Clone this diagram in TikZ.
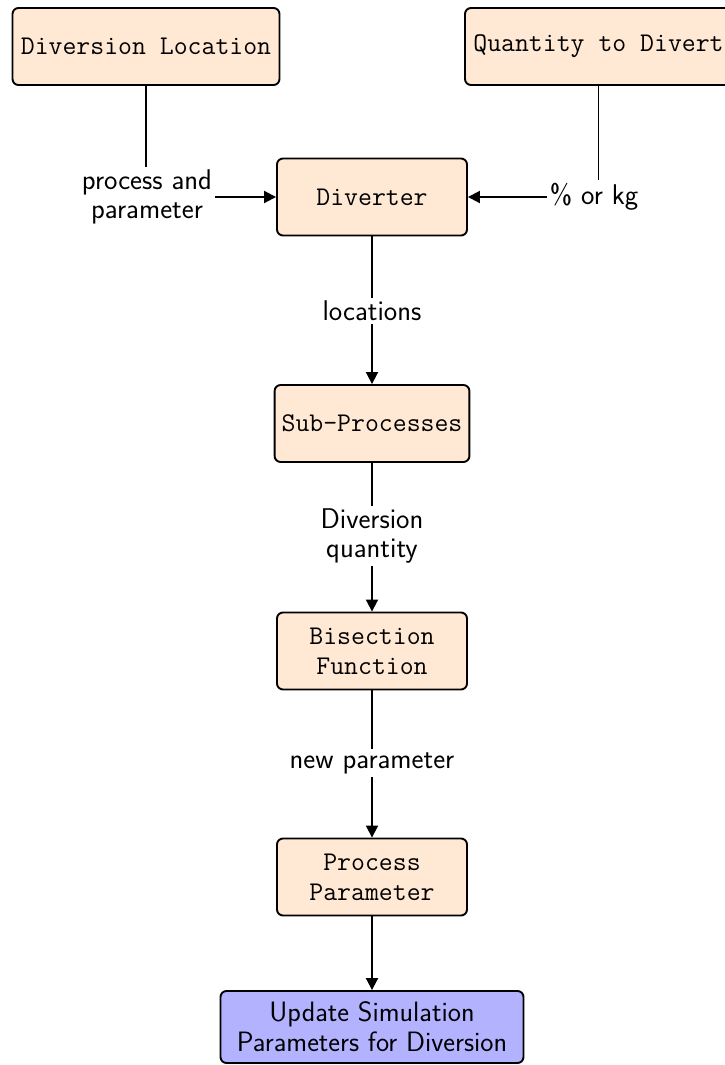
\documentclass[tikz,border=0pt]{standalone}
\usetikzlibrary{arrows.meta}
\definecolor{peach}{RGB}{255,232,212}
\definecolor{lblue}{RGB}{178,178,255}
\begin{document}
\begin{tikzpicture}[x=1pt,y=1pt,
  box/.style={draw, line width=1.9pt, rounded corners=6pt, fill=peach,
    minimum width=190pt, minimum height=77pt, inner sep=7pt, align=center,
    font=\fontsize{27}{30}\selectfont\ttfamily},
  final/.style={box, fill=lblue, minimum height=72pt, inner sep=8pt,
    font=\fontsize{28}{30}\selectfont\sffamily},
  lbl/.style={align=center, inner sep=3pt, font=\fontsize{28.5}{29}\selectfont\sffamily},
  conn/.style={line width=1.9pt},
  arr/.style={line width=1.9pt, -{Triangle[length=12pt,width=12pt]}}]
\useasboundingbox (0,0) rectangle (725,-1065);
\node[box, minimum width=267pt] (loc) at (146,-46.5) {Diversion Location};
\node[box, minimum width=267pt] (qty) at (598.5,-46.5) {Quantity to Divert};
\node[box] (div) at (372,-197) {Diverter};
\node[box] (sub) at (372,-423.5) {Sub-Processes};
\node[box] (bis) at (372,-651) {Bisection\\Function};
\node[box] (par) at (372,-877) {Process\\Parameter};
\node[final, minimum width=303pt] (upd) at (372,-1027) {Update Simulation\\Parameters for Diversion};
\node[lbl] (l1) at (147,-197) {process and\\parameter};
\node[lbl] (l2) at (594,-197) {\% or kg};
\node[lbl] (l3) at (372,-311) {locations};
\node[lbl] (l4) at (372,-536) {Diversion\\quantity};
\node[lbl] (l5) at (372,-763) {new parameter};
\draw[conn] (loc) -- (loc |- l1.north);
\draw[arr] (l1) -- (div);
\draw[conn] (qty) -- (qty |- l2.north);
\draw[arr] (l2) -- (div);
\draw[conn] (div) -- (l3);
\draw[arr] (l3) -- (sub);
\draw[conn] (sub) -- (l4);
\draw[arr] (l4) -- (bis);
\draw[conn] (bis) -- (l5);
\draw[arr] (l5) -- (par);
\draw[arr] (par) -- (upd);
\end{tikzpicture}
\end{document}
